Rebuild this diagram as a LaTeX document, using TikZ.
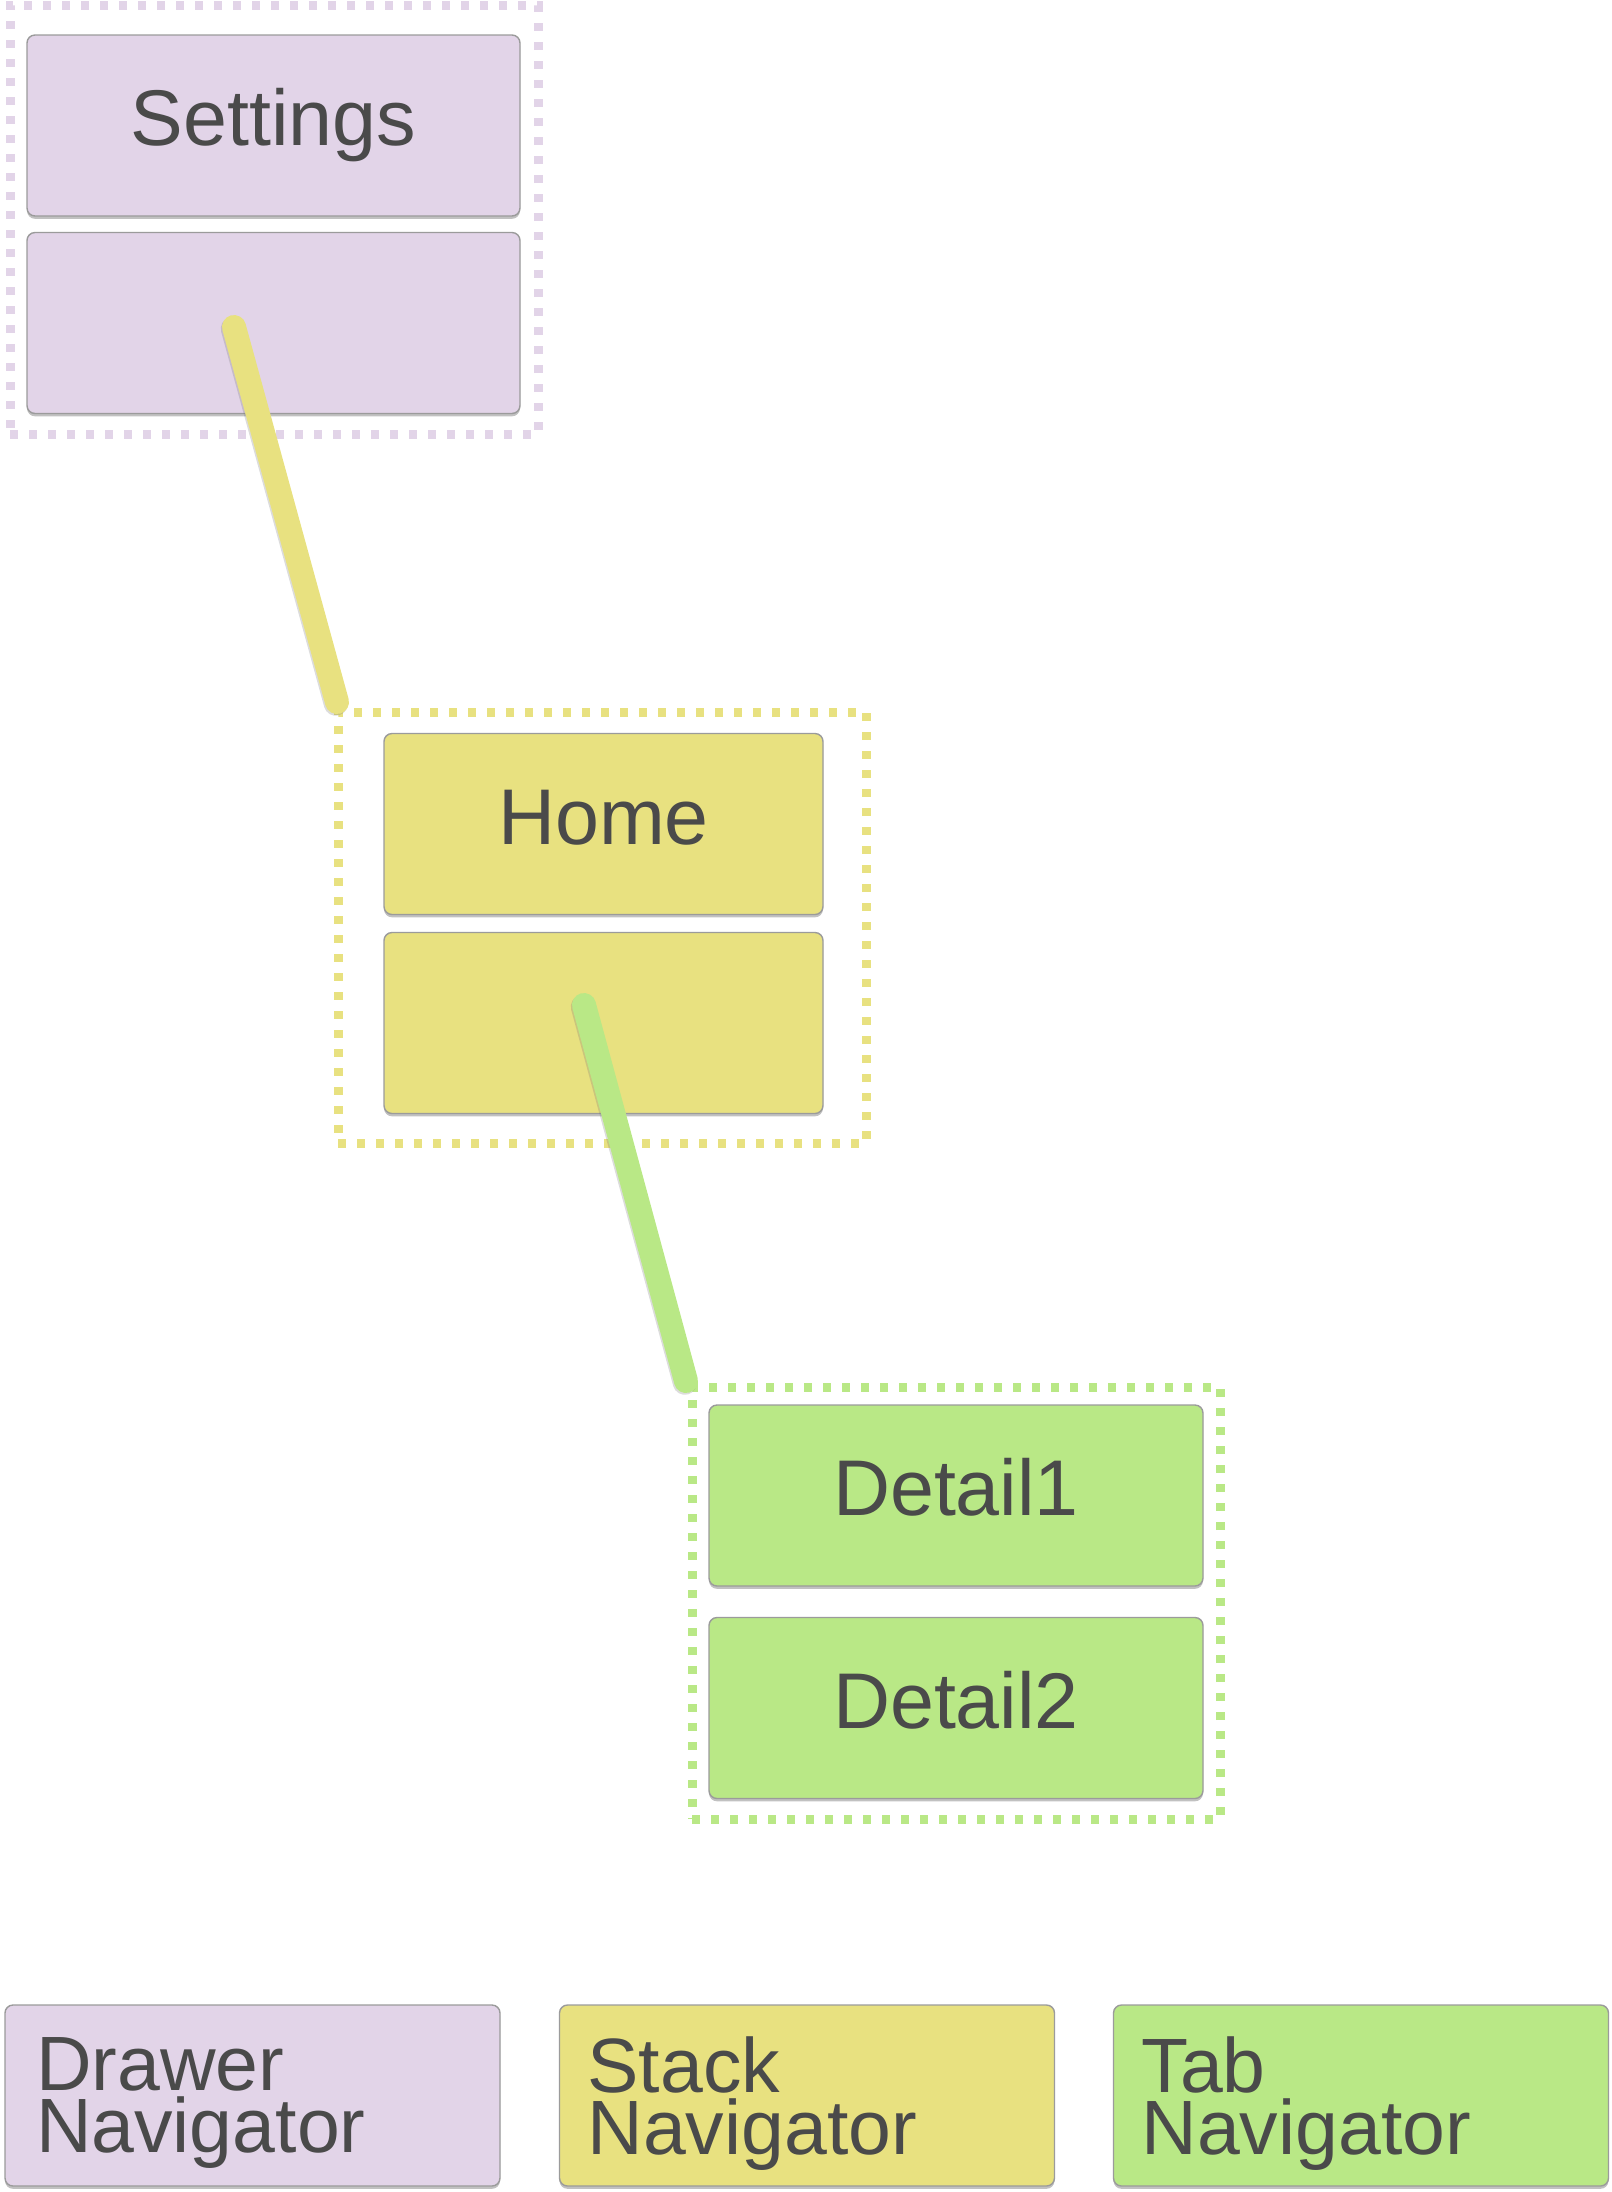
\documentclass[tikz,border=0pt]{standalone}
\usepackage{fontspec}
\setmainfont{Liberation Sans}
\usetikzlibrary{shadows,calc}
\definecolor{drw}{RGB}{226,212,232}
\definecolor{stk}{RGB}{232,225,128}
\definecolor{tabc}{RGB}{185,232,134}
\definecolor{txt}{RGB}{74,74,74}
\definecolor{edgec}{RGB}{155,155,155}
\begin{document}
\begin{tikzpicture}[x=0.5pt,y=-0.5pt,
  screen/.style={draw=edgec, line width=0.7pt, rounded corners=4pt,
    inner sep=0pt, outer sep=0pt, minimum height=90.5pt,
    text=txt, font=\fontsize{39.5}{44}\selectfont,
    text height=28.4pt, text depth=8.3pt,
    drop shadow={shadow xshift=0pt, shadow yshift=-1.4pt, opacity=0.35, fill=black!70}},
  grpbox/.style={line width=4.5pt, dash pattern=on 4.2pt off 5.3pt, inner sep=0pt, outer sep=0pt,
    minimum width=264pt},
  legbox/.style={screen, minimum width=247.5pt},
  legtxt/.style={inner sep=0pt, outer sep=0pt, anchor=north west, align=left, text=txt,
    font=\fontsize{38.5}{31}\selectfont},
  wire/.style={line width=12pt, line cap=round,
    preaction={draw=black!55, opacity=0.25, line width=12pt, line cap=round,
      transform canvas={xshift=-0.6pt, yshift=-0.9pt}}}
]
\useasboundingbox (0,0) rectangle (1612,2192);

% groups
\node[grpbox, draw=drw, minimum height=214.5pt] (dgrp) at (274,219.5) {};
\node[grpbox, draw=stk, minimum height=215.5pt] (hgrp) at (602,927.5) {};
\node[grpbox, draw=tabc, minimum height=216pt] (tgrp) at (956,1603) {};

% screens
\node[screen, fill=drw, minimum width=246.5pt] (settings) at (273.5,125.5) {Settings};
\node[screen, fill=drw, minimum width=246.5pt] (sbody) at (273.5,323) {};
\node[screen, fill=stk, minimum width=219.5pt] (home) at (603.5,824) {Home};
\node[screen, fill=stk, minimum width=219.5pt] (hbody) at (603.5,1023) {};
\node[screen, fill=tabc, minimum width=247pt] (detail1) at (956,1495.5) {Detail1};
\node[screen, fill=tabc, minimum width=247pt] (detail2) at (956,1708) {Detail2};

% connectors
\coordinate (ys) at ($(sbody.center)+(-39.5,4)$);
\coordinate (ye) at ($(hgrp.north west)+(-1,-10)$);
\coordinate (gs) at ($(hbody.center)+(-19.5,-18)$);
\coordinate (ge) at ($(tgrp.north west)+(-6,-6)$);
\draw[wire, stk] (ys) -- (ye);
\draw[wire, tabc] (gs) -- (ge);

% legend
\node[legbox, fill=drw] (ldrawer) at (252.5,2095.5) {};
\node[legbox, fill=stk] (lstack) at (807,2095.5) {};
\node[legbox, fill=tabc] (ltab) at (1361,2095.5) {};
\node[legtxt] (tdrawer) at ($(ldrawer.north west)+(31,32)$) {Drawer\\Navigator};
\node[legtxt] (tstack) at ($(lstack.north west)+(28,32)$) {Stack\\Navigator};
\node[legtxt] (ttab) at ($(ltab.north west)+(28,32)$) {Tab\\Navigator};
\end{tikzpicture}
\end{document}
